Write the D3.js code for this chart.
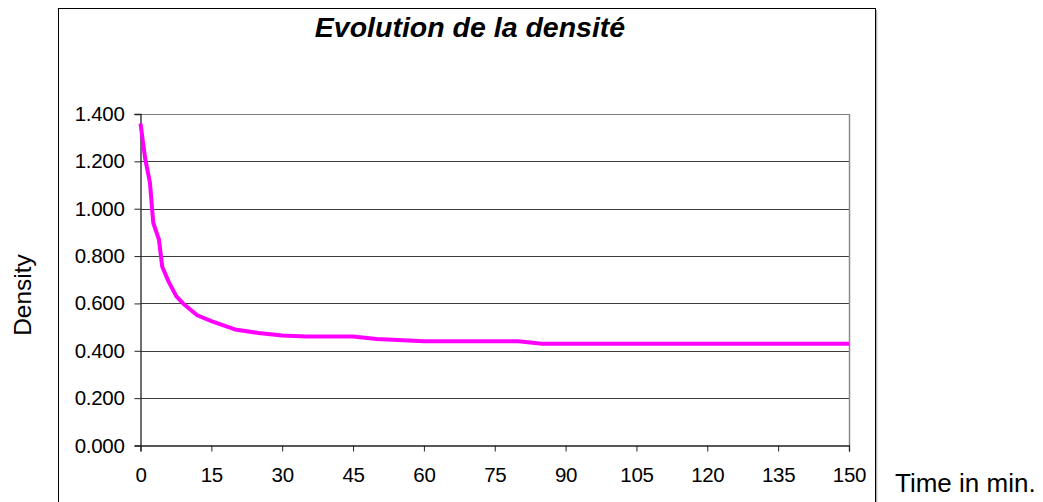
<!DOCTYPE html>
<html lang="fr">
<head>
<meta charset="UTF-8">
<title>Evolution de la densité</title>
<script src="https://cdn.jsdelivr.net/npm/d3@7"></script>
<style>
  html, body { margin: 0; padding: 0; background: #fff; }
  svg { display: block; font-family: "Liberation Sans", Arial, sans-serif; }
</style>
</head>
<body>
<div id="chart"></div>
<script>
  // time in minutes and density
  var times   = [0, 1, 2, 2.7, 3.9, 4.6, 6, 7.6, 9, 12, 15, 20, 25, 30, 35, 45, 50, 60, 80, 85, 150];
  var density = [1.36, 1.21, 1.11, 0.94, 0.87, 0.755, 0.69, 0.63, 0.60, 0.55, 0.525, 0.49, 0.475, 0.465, 0.46, 0.46, 0.45, 0.44, 0.44, 0.43, 0.43];
  var xTicks = [0, 15, 30, 45, 60, 75, 90, 105, 120, 135, 150];
  var yTicks = [0, 0.2, 0.4, 0.6, 0.8, 1.0, 1.2, 1.4];

  var W = 1043, H = 502;
  var plot = { left: 140.5, right: 849, top: 114, bottom: 445.5 };

  var svg = d3.select("#chart").append("svg")
    .attr("width", W).attr("height", H);

  // outer chart frame with a soft grey shadow on the right
  svg.append("line")
    .attr("x1", 876.5).attr("x2", 876.5).attr("y1", 10).attr("y2", H)
    .attr("stroke", "#b0b0b0").attr("stroke-width", 1.5);
  svg.append("rect")
    .attr("x", 58.5).attr("y", 8.5).attr("width", 817).attr("height", H + 10)
    .attr("fill", "none").attr("stroke", "#000").attr("stroke-width", 1);

  var x = d3.scaleLinear().domain([0, 150]).range([plot.left, plot.right]);
  var y = d3.scaleLinear().domain([0, 1.4]).range([plot.bottom, plot.top]);

  // gridlines
  svg.append("g")
    .selectAll("line")
    .data(yTicks.slice(1))
    .enter().append("line")
      .attr("x1", plot.left).attr("x2", plot.right)
      .attr("y1", function(d) { return Math.round(y(d)) + 0.5; })
      .attr("y2", function(d) { return Math.round(y(d)) + 0.5; })
      .attr("stroke", function(d) { return d === 1.4 ? "#7a7a7a" : "#3c3c3c"; })
      .attr("stroke-width", 1);

  // right border of plot area
  svg.append("line")
    .attr("x1", plot.right + 0.5).attr("x2", plot.right + 0.5)
    .attr("y1", plot.top).attr("y2", plot.bottom)
    .attr("stroke", "#8a8a8a").attr("stroke-width", 1.5);

  var yAxis = d3.axisLeft(y)
    .tickValues(yTicks)
    .tickSize(6)
    .tickPadding(10)
    .tickFormat(d3.format(".3f"));

  var xAxis = d3.axisBottom(x)
    .tickValues(xTicks)
    .tickSize(6)
    .tickPadding(16)
    .tickFormat(d3.format("d"));

  var gx = svg.append("g")
    .attr("transform", "translate(0," + plot.bottom + ")")
    .call(xAxis);

  var gy = svg.append("g")
    .attr("transform", "translate(" + plot.left + ",0)")
    .call(yAxis);

  [gx, gy].forEach(function(g) {
    g.select(".domain").attr("stroke", "#222").attr("stroke-width", 1.3);
    g.selectAll(".tick line").attr("stroke", "#222");
    g.selectAll(".tick text")
      .attr("fill", "#000")
      .style("font-size", "20.5px")
      .style("letter-spacing", "-0.3px")
      .style("font-family", "'Liberation Sans', Arial, sans-serif");
  });

  // density curve
  var line = d3.line()
    .x(function(d) { return x(d[0]); })
    .y(function(d) { return y(d[1]); });

  svg.append("path")
    .datum(times.map(function(t, i) { return [t, density[i]]; }))
    .attr("d", line)
    .attr("fill", "none")
    .attr("stroke", "#ff00ff")
    .attr("stroke-width", 4)
    .attr("stroke-linejoin", "round");

  // title and axis titles
  svg.append("text")
    .attr("x", 470).attr("y", 37)
    .attr("text-anchor", "middle")
    .style("font-size", "28.5px")
    .style("font-weight", "bold")
    .style("font-style", "italic")
    .text("Evolution de la densité");

  svg.append("text")
    .attr("transform", "translate(31,295) rotate(-90)")
    .attr("text-anchor", "middle")
    .style("font-size", "24.5px")
    .text("Density");

  svg.append("text")
    .attr("x", 895).attr("y", 492)
    .style("font-size", "26px")
    .text("Time in min.");
</script>
</body>
</html>
